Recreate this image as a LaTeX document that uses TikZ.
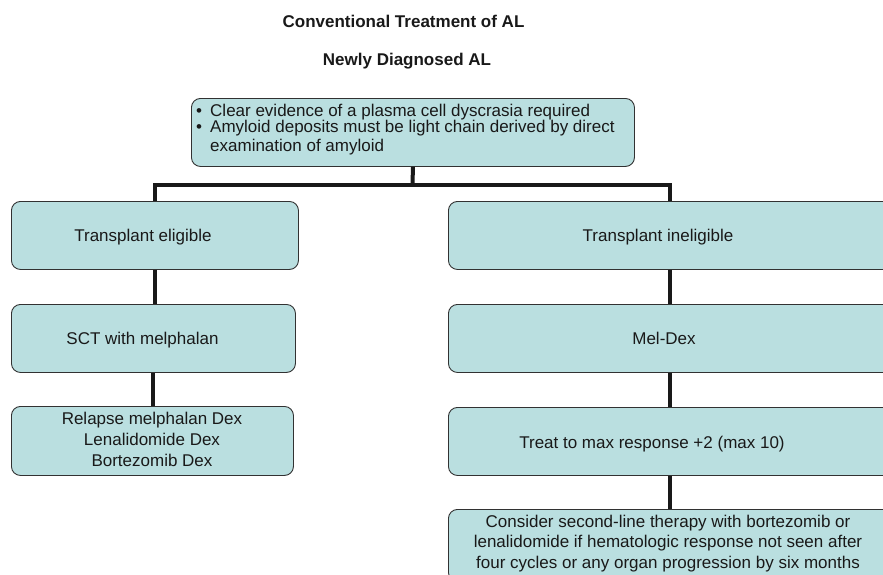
\documentclass[tikz,border=0pt]{standalone}
\usepackage{fontspec}
\setmainfont{Liberation Sans}
\definecolor{boxfill}{RGB}{186,223,224}
\definecolor{boxline}{RGB}{50,50,50}
\tikzset{
  box/.style={draw=boxline, fill=boxfill, line width=0.9pt, rounded corners=9pt,
              inner sep=0pt, anchor=north west},
  txt/.style={inner sep=0pt, anchor=base, text=black!90, font=\fontsize{17}{20}\selectfont},
  txtl/.style={txt, anchor=base west},
  ttl/.style={txt, font=\fontsize{17}{20}\selectfont\bfseries},
  conn/.style={line width=4pt, black!90, line join=miter}
}
\begin{document}
\begin{tikzpicture}[x=1pt,y=-1pt]
\useasboundingbox (0,0) rectangle (883,574);
\clip (0,0) rectangle (883,574);

% titles
\node[ttl] (t1) at (403.5,27) {Conventional Treatment of AL};
\node[ttl] (t2) at (407,65) {Newly Diagnosed AL};

% boxes
\node[box, minimum width=443pt, minimum height=68pt] (top) at (191,98) {};
\node[box, minimum width=287pt, minimum height=68pt] (le) at (11,201) {};
\node[box, minimum width=444pt, minimum height=68pt] (re) at (448,201) {};
\node[box, minimum width=284pt, minimum height=68pt] (ls) at (11,304) {};
\node[box, minimum width=444pt, minimum height=68pt] (rm) at (448,304) {};
\node[box, minimum width=282pt, minimum height=69pt] (lr) at (11,406) {};
\node[box, minimum width=444pt, minimum height=68pt] (rt) at (448,407) {};
\node[box, minimum width=444pt, minimum height=72pt] (rc) at (448,509) {};

% texts
\node[txtl] (b1) at (196,116) {•};
\node[txtl] (x1) at (210,116) {Clear evidence of a plasma cell dyscrasia required};
\node[txtl] (b2) at (196,132) {•};
\node[txtl] (x2) at (210,132) {Amyloid deposits must be light chain derived by direct};
\node[txtl] (x3) at (210,151) {examination of amyloid};

\node[txt] (tle) at (143,241.5) {Transplant eligible};
\node[txt] (tre) at (658,241.5) {Transplant ineligible};
\node[txt] (tls) at (142.5,344) {SCT with melphalan};
\node[txt] (trm) at (664,344) {Mel-Dex};
\node[txt] (trt) at (652,448) {Treat to max response +2 (max 10)};

\node[txt] (l31) at (152,424) {Relapse melphalan Dex};
\node[txt] (l32) at (152,445) {Lenalidomide Dex};
\node[txt] (l33) at (152,466) {Bortezomib Dex};

\node[txt] (c1) at (668,527) {Consider second-line therapy with bortezomib or};
\node[txt] (c2) at (668,547) {lenalidomide if hematologic response not seen after};
\node[txt] (c3) at (668,568) {four cycles or any organ progression by six months};

% connectors
\coordinate (j) at (412.5,185);
\draw[conn] (top.south) -- (j);
\draw[conn] (le.north) |- (j) -| (re.north);
\draw[conn] (le.south) -- (le.south |- ls.north);
\draw[conn] (ls.south) -- (ls.south |- lr.north);
\draw[conn] (re.south) -- (re.south |- rm.north);
\draw[conn] (rm.south) -- (rm.south |- rt.north);
\draw[conn] (rt.south) -- (rt.south |- rc.north);
\end{tikzpicture}
\end{document}
